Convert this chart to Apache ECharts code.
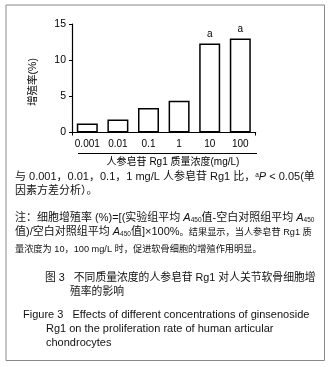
<!DOCTYPE html>
<html><head><meta charset="utf-8">
<script src="https://cdn.jsdelivr.net/npm/echarts@6/dist/echarts.min.js"></script>
<style>html,body{margin:0;padding:0;background:#fff}#c{width:330px;height:367px}</style>
</head><body><div id="c"></div>
<script>
var categories = ['0.001', '0.01', '0.1', '1', '10', '100'];
var rates = [1.25, 1.8, 3.4, 4.4, 12.3, 13.0];
var sigLabels = ['', '', '', '', 'a', 'a'];
var yTicks = [0, 5, 10, 15];

var F = '"Liberation Sans", Arial, "Noto Sans CJK SC", sans-serif';
var chart = echarts.init(document.getElementById('c'));
var sub = {fontSize: 6.5, verticalAlign: 'bottom', fontFamily: F, fill: '#111'};
chart.setOption({
  animation: false,
  backgroundColor: '#fff',
  grid: {left: 72, top: 24, width: 183.6, height: 108.5, containLabel: false},
  xAxis: {
    type: 'category', data: categories, boundaryGap: true,
    axisLine: {lineStyle: {color: '#000', width: 1.2}},
    axisTick: {show: true, length: 3, interval: function (i) { return i === 3; }, lineStyle: {color: '#000'}},
    axisLabel: {color: '#000', fontSize: 10, fontFamily: F, margin: 7, interval: 0}
  },
  yAxis: {
    type: 'value', min: 0, max: 15, interval: 5,
    axisLine: {show: true, lineStyle: {color: '#000', width: 1.2}},
    axisTick: {show: true, length: 3, lineStyle: {color: '#000'}},
    splitLine: {show: false},
    axisLabel: {color: '#000', fontSize: 10.5, fontFamily: F, margin: 6,
      formatter: function (v) { return yTicks.indexOf(v) >= 0 ? String(v) : ''; }}
  },
  series: [{
    type: 'bar', barWidth: 21,
    data: rates.map(function (v, i) {
      return {value: v, label: {show: sigLabels[i] !== '', formatter: sigLabels[i]}};
    }),
    itemStyle: {color: '#fff', borderColor: '#000', borderWidth: 1.5},
    label: {position: 'top', distance: 4, color: '#000', fontSize: 10, fontFamily: F}
  }],
  graphic: [
    {type: 'rect', shape: {x: 6, y: 5, width: 318.5, height: 355.5}, style: {fill: 'none', stroke: '#888', lineWidth: 1}},
    {type: 'text', x: 33, y: 82, rotation: Math.PI / 2, style: {text: '增殖率(%)', fill: '#000', font: '10.5px ' + F, textAlign: 'center', textVerticalAlign: 'middle'}},
    {type: 'line', shape: {x1: 78, y1: 153.5, x2: 257, y2: 153.5}, style: {stroke: '#000', lineWidth: 1}},
    {type: 'text', x: 173, y: 162, style: {text: '人参皂苷 Rg1 质量浓度(mg/L)', fill: '#000', font: '10px ' + F, textAlign: 'center', textVerticalAlign: 'middle'}},
    {type: 'text', x: 15, y: 177, style: {
      rich: {t: {font: '11px ' + F, fill: '#111'}, s: {fontSize: 6.5, verticalAlign: 'top', fontFamily: F, fill: '#111'}, i: {font: 'italic 11px ' + F, fill: '#111'}},
      text: '{t|与 0.001，0.01，0.1，1 mg/L 人参皂苷 Rg1 比，}{s|a}{i|P}{t| < 0.05(单}', textVerticalAlign: 'middle'}},
    {type: 'text', x: 15, y: 191, style: {text: '因素方差分析）。', fill: '#111', font: '11px ' + F, textVerticalAlign: 'middle'}},
    {type: 'text', x: 15, y: 218, style: {
      rich: {t: {font: '11px ' + F, fill: '#111'}, i: {font: 'italic 11px ' + F, fill: '#111'}, b: sub},
      text: '{t|注：细胞增殖率 (%)=[(实验组平均 }{i|A}{b|450}{t|值-空白对照组平均 }{i|A}{b|450}', textVerticalAlign: 'middle'}},
    {type: 'text', x: 15, y: 232, style: {
      rich: {t: {font: '11px ' + F, fill: '#111'}, i: {font: 'italic 11px ' + F, fill: '#111'}, b: sub, m: {font: '9.2px ' + F, fill: '#111'}},
      text: '{t|值)/空白对照组平均 }{i|A}{b|450}{t|值]×100%}{m|。结果显示，当人参皂苷 Rg1 质}', textVerticalAlign: 'middle'}},
    {type: 'text', x: 15, y: 249, style: {text: '量浓度为 10，100 mg/L 时，促进软骨细胞的增殖作用明显。', fill: '#111', font: '9.2px ' + F, textVerticalAlign: 'middle'}},
    {type: 'text', x: 45, y: 278, style: {text: '图 3   不同质量浓度的人参皂苷 Rg1 对人关节软骨细胞增', fill: '#111', font: '10.8px ' + F, textVerticalAlign: 'middle'}},
    {type: 'text', x: 70, y: 292, style: {text: '殖率的影响', fill: '#111', font: '10.8px ' + F, textVerticalAlign: 'middle'}},
    {type: 'text', x: 23, y: 315, style: {text: 'Figure 3   Effects of different concentrations of ginsenoside', fill: '#111', font: '11px ' + F, textVerticalAlign: 'middle'}},
    {type: 'text', x: 46, y: 329, style: {text: 'Rg1 on the proliferation rate of human articular', fill: '#111', font: '11px ' + F, textVerticalAlign: 'middle'}},
    {type: 'text', x: 46, y: 343, style: {text: 'chondrocytes', fill: '#111', font: '11px ' + F, textVerticalAlign: 'middle'}}
  ]
});
</script></body></html>
